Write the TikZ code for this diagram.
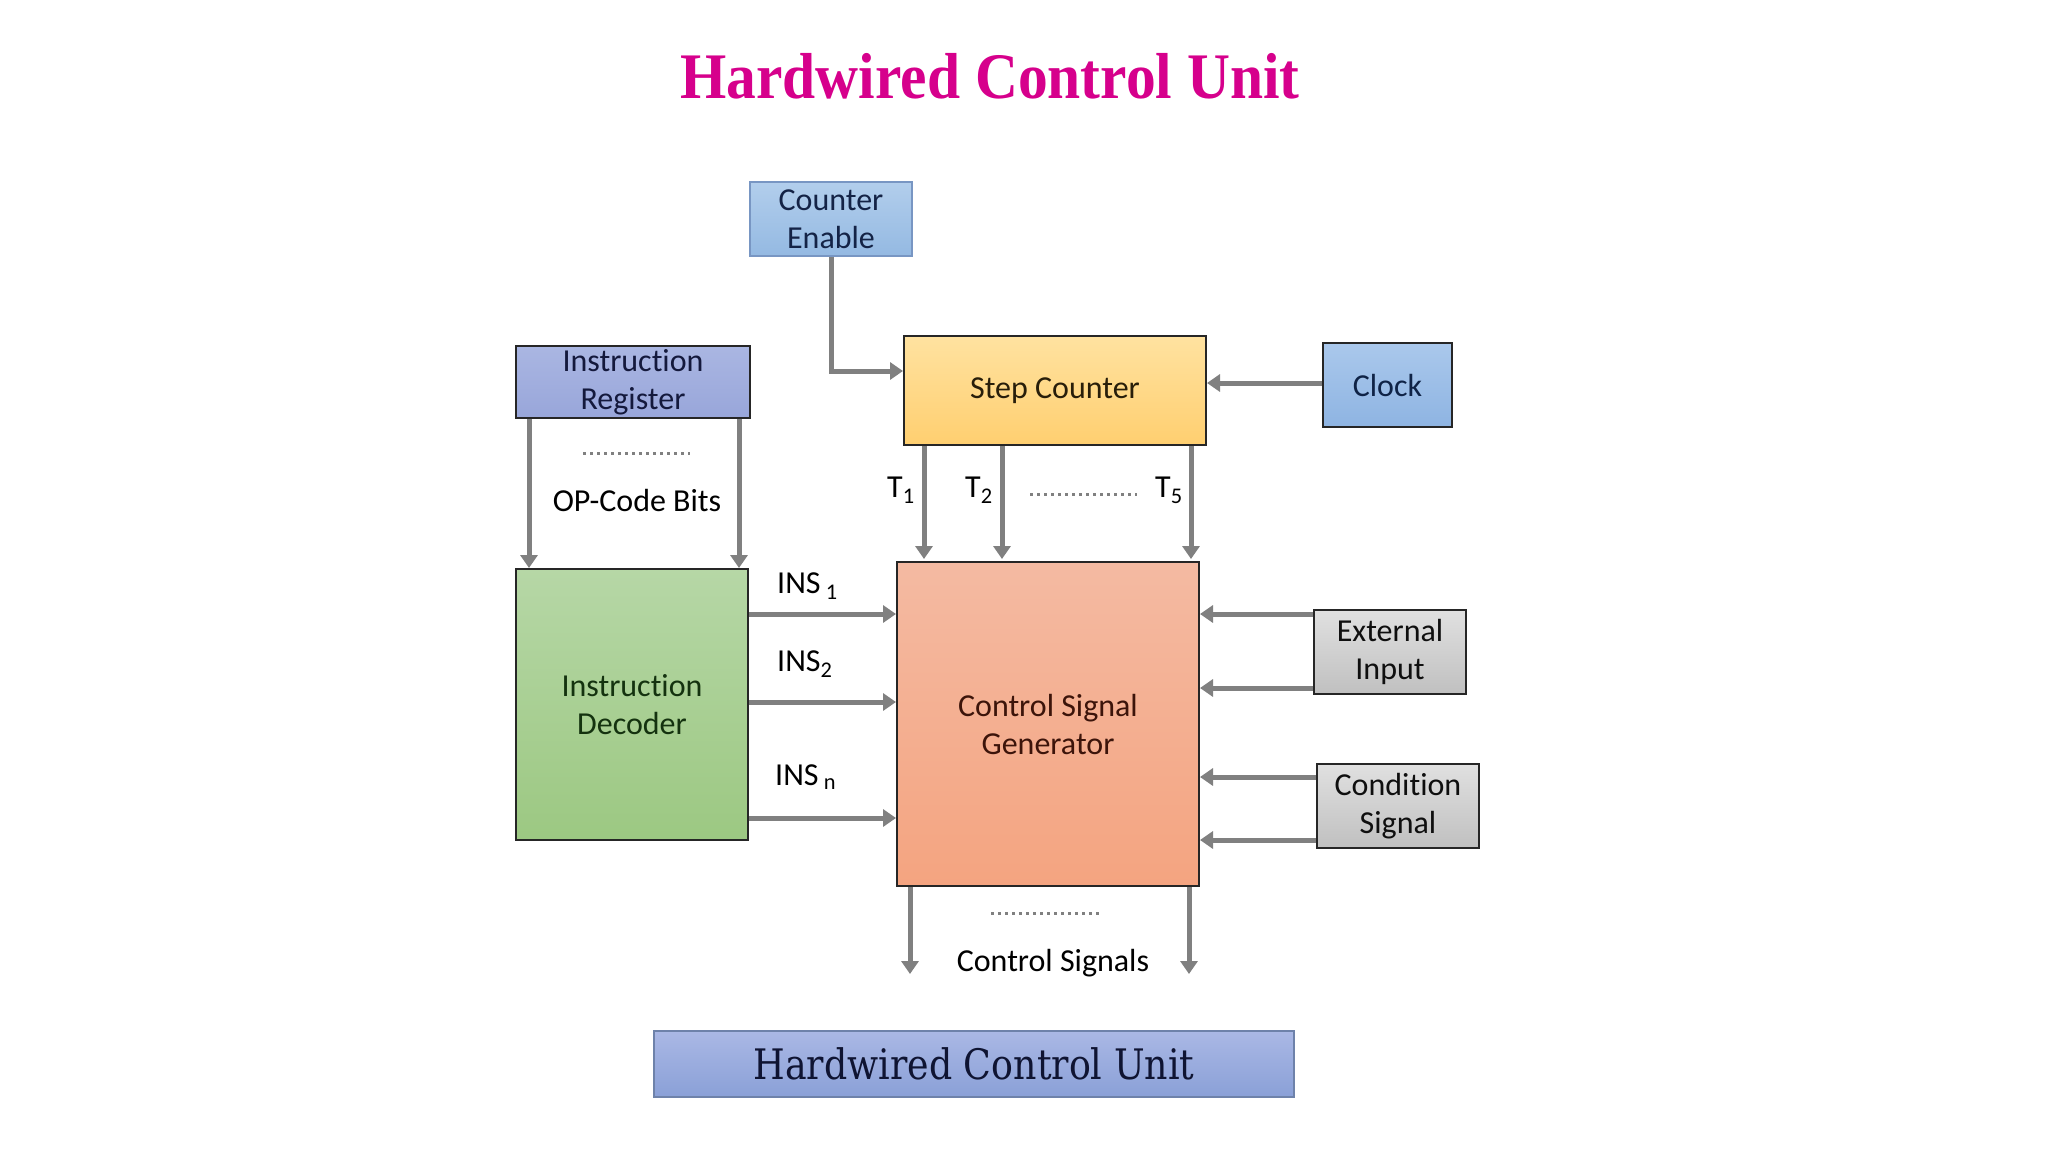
\documentclass[tikz,border=0pt]{standalone}
\usepackage{fontspec}
\setmainfont{Carlito}[Ligatures=NoCommon]
\newfontfamily\titlefont{Liberation Serif}
\newfontfamily\slabfont{DejaVu Serif}
\usetikzlibrary{arrows.meta}
\definecolor{arrowgray}{RGB}{128,128,128}
\definecolor{titlemag}{RGB}{214,0,140}
\begin{document}
\begin{tikzpicture}[x=1pt,y=-1pt,
  box/.style={rectangle, inner sep=0pt, line width=2pt, draw=black!85, align=center, font=\fontsize{32}{38}\selectfont},
  arr/.style={draw=arrowgray, line width=5pt, -{Triangle[length=13pt,width=17pt]}},
  dots/.style={draw=arrowgray, line width=3pt, dash pattern=on 2.5pt off 4.5pt},
  lbl/.style={inner sep=0pt, font=\fontsize{32}{38}\selectfont}
]
\fill[white] (0,0) rectangle (2048,1152);
\useasboundingbox (0,0) rectangle (2048,1152);

% title
\node[inner sep=0pt, text=titlemag] (title) at (990,76)
  {\resizebox{619pt}{\height}{\titlefont\fontsize{65}{70}\selectfont\bfseries Hardwired Control Unit}};

% boxes
\node[box, minimum width=162pt, minimum height=74pt, draw={rgb,255:red,120;green,150;blue,195},
  top color={rgb,255:red,178;green,206;blue,236}, bottom color={rgb,255:red,148;green,185;blue,226},
  text={rgb,255:red,20;green,35;blue,70}] (ce) at (831,219) {Counter\\Enable};
\node[box, minimum width=234pt, minimum height=72pt,
  top color={rgb,255:red,170;green,182;blue,226}, bottom color={rgb,255:red,152;green,166;blue,218},
  text={rgb,255:red,20;green,25;blue,60}] (ir) at (633,382) {Instruction\\Register};
\node[box, minimum width=302pt, minimum height=109pt,
  top color={rgb,255:red,255;green,226;blue,160}, bottom color={rgb,255:red,255;green,207;blue,112},
  text={rgb,255:red,40;green,30;blue,10}] (sc) at (1055,390.5) {\raisebox{-3pt}{Step Counter}};
\node[box, minimum width=129pt, minimum height=84pt,
  top color={rgb,255:red,170;green,200;blue,236}, bottom color={rgb,255:red,142;green,180;blue,226},
  text={rgb,255:red,15;green,35;blue,70}] (clk) at (1387.5,385) {Clock};
\node[box, minimum width=232pt, minimum height=271pt,
  top color={rgb,255:red,182;green,215;blue,166}, bottom color={rgb,255:red,156;green,200;blue,130},
  text={rgb,255:red,20;green,50;blue,15}] (id) at (632,704.5) {Instruction\\Decoder};
\node[box, minimum width=302pt, minimum height=324pt,
  top color={rgb,255:red,244;green,186;blue,162}, bottom color={rgb,255:red,244;green,164;blue,128},
  text={rgb,255:red,60;green,20;blue,10}] (csg) at (1048,724) {Control Signal\\Generator};
\node[box, minimum width=152pt, minimum height=84pt,
  top color={rgb,255:red,224;green,224;blue,224}, bottom color={rgb,255:red,192;green,192;blue,192},
  text={rgb,255:red,15;green,15;blue,15}] (ei) at (1390,652) {External\\Input};
\node[box, minimum width=162pt, minimum height=84pt,
  top color={rgb,255:red,224;green,224;blue,224}, bottom color={rgb,255:red,192;green,192;blue,192},
  text={rgb,255:red,15;green,15;blue,15}] (cs) at (1398,806) {Condition\\Signal};
\node[box, minimum width=640pt, minimum height=66pt, line width=1.5pt, draw={rgb,255:red,110;green,130;blue,170},
  top color={rgb,255:red,170;green,184;blue,229}, bottom color={rgb,255:red,138;green,160;blue,215},
  text={rgb,255:red,15;green,20;blue,50}] (hcu) at (974,1064)
  {\resizebox{441pt}{\height}{\slabfont\fontsize{42}{48}\selectfont Hardwired Control Unit}};

% counter enable -> step counter
\draw[arr] (ce.south) |- ([yshift=-36pt]sc.north west);
% clock -> step counter
\draw[arr] ([yshift=2pt]clk.west) -- ([yshift=2pt]clk.west -| sc.east);

% IR -> ID
\draw[arr] ([xshift=14pt]ir.south west) -- ([xshift=14pt]ir.south west |- id.north);
\draw[arr] ([xshift=-12pt]ir.south east) -- ([xshift=-12pt]ir.south east |- id.north);
\draw[dots] (583,453) -- (690,453);
\node[lbl] (opc) at (637,500) {OP-Code Bits};

% T lines
\draw[arr] ([xshift=21pt]sc.south west) -- ([xshift=21pt,yshift=2pt]sc.south west |- csg.north);
\draw[arr] ([xshift=99pt]sc.south west) -- ([xshift=99pt,yshift=2pt]sc.south west |- csg.north);
\draw[arr] ([xshift=-16pt]sc.south east) -- ([xshift=-16pt,yshift=2pt]sc.south east |- csg.north);
\node[lbl, anchor=west] (t1) at (887,490) {T\textsubscript{1}};
\node[lbl, anchor=west] (t2) at (965,490) {T\textsubscript{2}};
\node[lbl, anchor=west] (t5) at (1155,490) {T\textsubscript{5}};
\draw[dots] (1030,494) -- (1137,494);

% INS lines
\draw[arr] ([yshift=-46pt]id.north east) -- ([yshift=-46pt]id.north east -| csg.west);
\draw[arr] ([yshift=-134pt]id.north east) -- ([yshift=-134pt]id.north east -| csg.west);
\draw[arr] ([yshift=-250pt]id.north east) -- ([yshift=-250pt]id.north east -| csg.west);
\node[lbl, anchor=west] (ins1) at (777,586) {INS\,\textsubscript{1}};
\node[lbl, anchor=west] (ins2) at (777,664) {INS\textsubscript{2}};
\node[lbl, anchor=west] (insn) at (775,777) {INS\,\textsubscript{n}};

% external input / condition signal
\draw[arr] ([yshift=-5pt]ei.north west) -- ([yshift=-5pt]ei.north west -| csg.east);
\draw[arr] ([yshift=7pt]ei.south west) -- ([yshift=7pt]ei.south west -| csg.east);
\draw[arr] ([yshift=-14pt]cs.north west) -- ([yshift=-14pt]cs.north west -| csg.east);
\draw[arr] ([yshift=9pt]cs.south west) -- ([yshift=9pt]cs.south west -| csg.east);

% control signals out
\coordinate (o1) at (910,974);
\coordinate (o2) at (1189,974);
\draw[arr] (csg.south west -| o1) -- (o1);
\draw[arr] (csg.south west -| o2) -- (o2);
\draw[dots] (991,913) -- (1100,913);
\node[lbl] (ctl) at (1053,963) {Control Signals};
\end{tikzpicture}
\end{document}
